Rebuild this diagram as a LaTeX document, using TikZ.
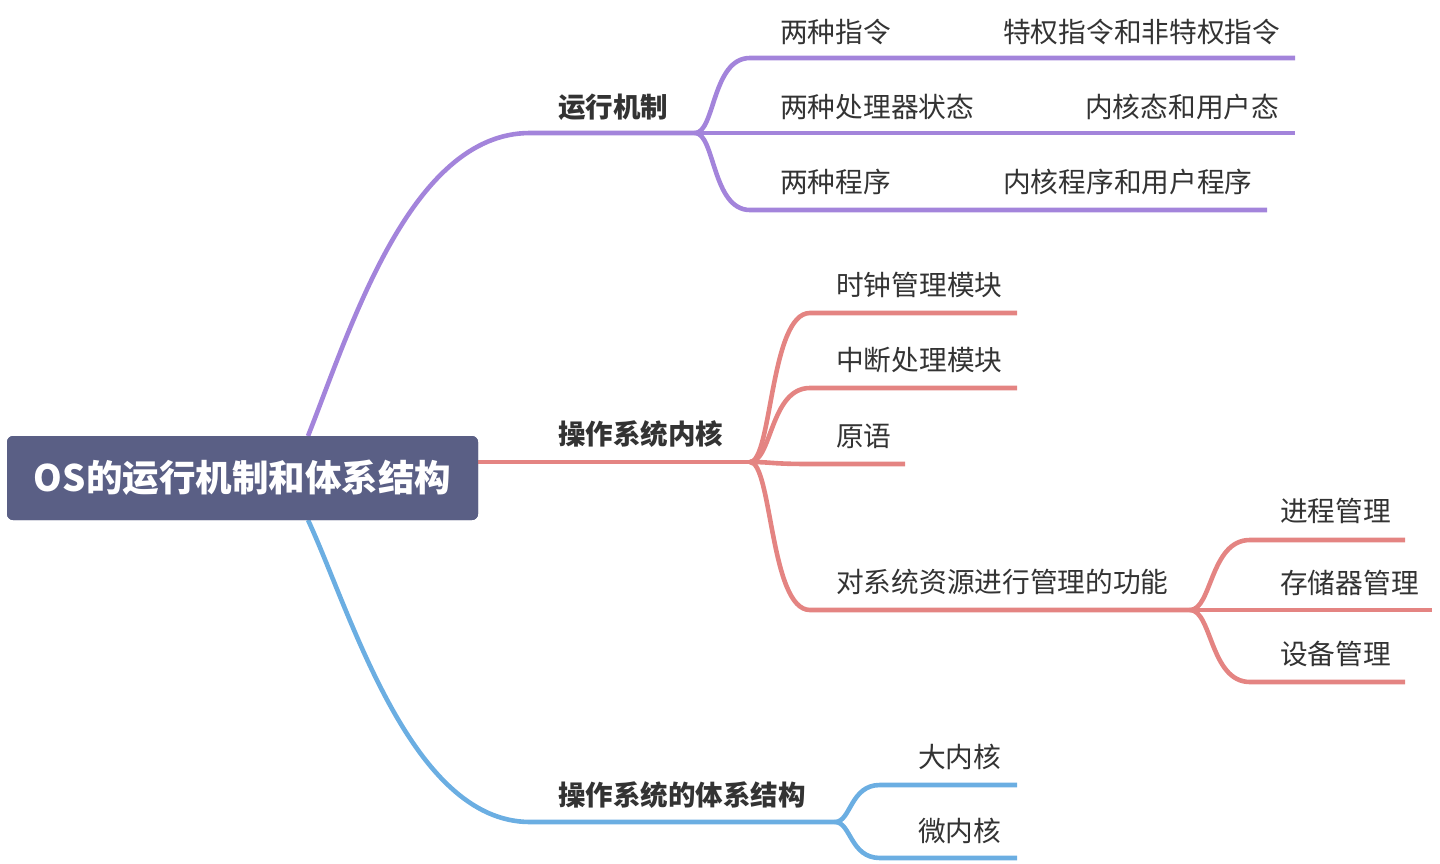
\documentclass[tikz,border=0pt]{standalone}
\usepackage{fontspec}
\setmainfont{Noto Sans CJK SC}
\begin{document}
\begin{tikzpicture}[x=1pt,y=-1pt,
  lbl/.style={anchor=west,inner sep=0pt,text=txt,font=\fontsize{27.7}{30}\selectfont},
  blbl/.style={lbl,font=\fontsize{27.5}{30}\selectfont\bfseries},
  br/.style={line width=4.6pt,line join=round},
  pur/.style={br,draw=cpur},
  red/.style={br,draw=cred},
  blu/.style={br,draw=cblu}]
\definecolor{cpur}{HTML}{A384DB}
\definecolor{cred}{HTML}{E48482}
\definecolor{cblu}{HTML}{6BAEE2}
\definecolor{croot}{HTML}{5A5F85}
\definecolor{txt}{HTML}{333333}
\useasboundingbox (0,0) rectangle (1440,864);

% root
\node[fill=croot,rounded corners=6pt,minimum width=471pt,minimum height=84pt,inner sep=0pt,
  text=white,font=\fontsize{36.5}{38}\selectfont\bfseries] (root) at (242.5,478) {OS的运行机制和体系结构};

% coordinates
\coordinate (rtop) at (308,436);
\coordinate (rbot) at (308,520);
\coordinate (rright) at (478,462);

% branch 1 purple
\coordinate (p1s) at (530,133);
\coordinate (p1f) at (695,133);
\coordinate (p11s) at (750,58);  \coordinate (p11e) at (1295,58);
\coordinate (p12e) at (1295,133);
\coordinate (p13s) at (750,210); \coordinate (p13e) at (1267,210);

\draw[pur] (rtop) .. controls (350,330) and (410,133) .. (p1s) -- (p1f);
\draw[pur] (p1f) .. controls +(20,0) and +(-38,0) .. (p11s) -- (p11e);
\draw[pur] (p1f) -- (p12e);
\draw[pur] (p1f) .. controls +(20,0) and +(-38,0) .. (p13s) -- (p13e);

\node[blbl] (n1) at (558,107) {运行机制};
\node[lbl] (n11) at (780,32) {两种指令};
\node[lbl] (n111) at (1003,32) {特权指令和非特权指令};
\node[lbl] (n12) at (780,107) {两种处理器状态};
\node[lbl] (n121) at (1085,107) {内核态和用户态};
\node[lbl] (n13) at (780,182) {两种程序};
\node[lbl] (n131) at (1003,182) {内核程序和用户程序};

% branch 2 red
\coordinate (r2f) at (750,462);
\coordinate (r21s) at (810,313); \coordinate (r21e) at (1017,313);
\coordinate (r22s) at (810,388); \coordinate (r22e) at (1017,388);
\coordinate (r23s) at (810,464); \coordinate (r23e) at (905,464);
\coordinate (r24s) at (810,610); \coordinate (r24f) at (1190,610);
\coordinate (r241s) at (1250,540); \coordinate (r241e) at (1405,540);
\coordinate (r242e) at (1432,610);
\coordinate (r243s) at (1250,682); \coordinate (r243e) at (1405,682);

\draw[red] (rright) -- (r2f);
\draw[red] (r2f) .. controls +(22,0) and +(-40,0) .. (r21s) -- (r21e);
\draw[red] (r2f) .. controls +(22,0) and +(-40,0) .. (r22s) -- (r22e);
\draw[red] (r2f) .. controls +(22,0) and +(-40,0) .. (r23s) -- (r23e);
\draw[red] (r2f) .. controls +(22,0) and +(-40,0) .. (r24s) -- (r24f);
\draw[red] (r24f) .. controls +(22,0) and +(-40,0) .. (r241s) -- (r241e);
\draw[red] (r24f) -- (r242e);
\draw[red] (r24f) .. controls +(22,0) and +(-40,0) .. (r243s) -- (r243e);

\node[blbl] (n2) at (558,434) {操作系统内核};
\node[lbl] (n21) at (836,285) {时钟管理模块};
\node[lbl] (n22) at (836,360) {中断处理模块};
\node[lbl] (n23) at (836,436) {原语};
\node[lbl] (n24) at (836,582) {对系统资源进行管理的功能};
\node[lbl] (n241) at (1280,511) {进程管理};
\node[lbl] (n242) at (1280,583) {存储器管理};
\node[lbl] (n243) at (1280,654) {设备管理};

% branch 3 blue
\coordinate (b3s) at (530,822);
\coordinate (b3f) at (835,822);
\coordinate (b31s) at (880,785); \coordinate (b31e) at (1017,785);
\coordinate (b32s) at (880,858); \coordinate (b32e) at (1017,858);

\draw[blu] (rbot) .. controls (350,610) and (410,822) .. (b3s) -- (b3f);
\draw[blu] (b3f) .. controls +(16,0) and +(-30,0) .. (b31s) -- (b31e);
\draw[blu] (b3f) .. controls +(16,0) and +(-30,0) .. (b32s) -- (b32e);

\node[blbl] (n3) at (558,795) {操作系统的体系结构};
\node[lbl] (n31) at (918,757) {大内核};
\node[lbl] (n32) at (918,831) {微内核};

% redraw root on top
\node[fill=croot,rounded corners=6pt,minimum width=471pt,minimum height=84pt,inner sep=0pt,
  text=white,font=\fontsize{36.5}{38}\selectfont\bfseries] (rootc) at (root.center) {OS的运行机制和体系结构};
\end{tikzpicture}
\end{document}
